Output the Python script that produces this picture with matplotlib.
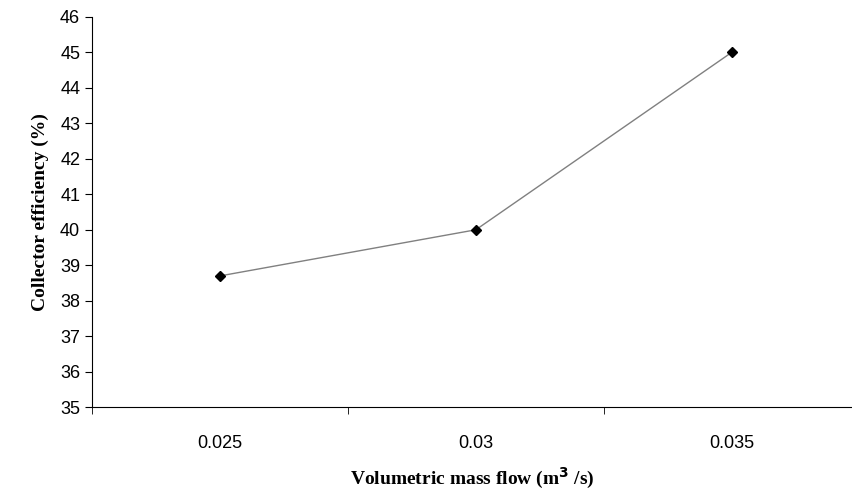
import matplotlib.pyplot as plt

flow_labels = ['0.025', '0.03', '0.035']
efficiency = [38.7, 40.0, 45.0]

fig = plt.figure(figsize=(8.52, 4.96), dpi=100)
ax = fig.add_axes([0.108, 0.179, 0.892, 0.787])

x = list(range(len(flow_labels)))
ax.plot(x, efficiency, color='#808080', lw=1, marker='D', ms=5,
        mfc='black', mec='black')

ax.set_xlim(-0.5, 2.47)
ax.set_ylim(35, 46)
ax.set_yticks(range(35, 47))
ax.set_xticks(x)
ax.set_xticklabels(flow_labels, fontsize=13, family='Liberation Sans')
ax.set_xticks([-0.5, 0.5, 1.5], minor=True)
ax.tick_params(axis='x', which='major', length=0, pad=20)
ax.tick_params(axis='x', which='minor', length=5, direction='out')
ax.tick_params(axis='y', length=5, direction='out', labelsize=13)
for lab in ax.get_yticklabels():
    lab.set_family('Liberation Sans')

for s in ['top', 'right']:
    ax.spines[s].set_visible(False)

ax.set_xlabel('Volumetric mass flow (m$^{\\mathbf{3}}$ /s)', family='Liberation Serif',
              fontweight='bold', fontsize=14, labelpad=10)
ax.set_ylabel('Collector efficiency (%)', family='Liberation Serif',
              fontweight='bold', fontsize=14, labelpad=8)

fig.savefig('out.png')
